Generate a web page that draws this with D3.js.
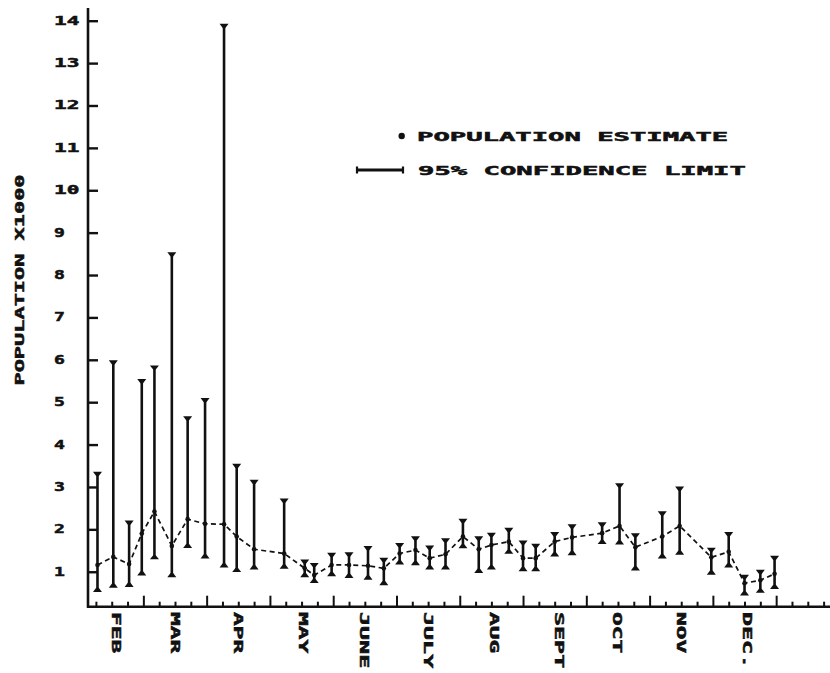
<!DOCTYPE html>
<html><head><meta charset="utf-8">
<script src="https://cdn.jsdelivr.net/npm/d3@7"></script>
<style>body{margin:0;background:#fff}svg{display:block}</style>
</head><body>
<svg id="c" width="830" height="673"></svg>
<script>
// ---- data ----
const weeks = [0.1,1.1,2.1,2.9,3.7,4.8,5.8,6.9,8.1,8.9,10.0,11.9,13.2,13.8,14.9,16.0,17.2,18.2,19.2,20.2,21.1,22.1,23.2,24.2,25.0,26.1,27.0,27.8,29.0,30.1,32.0,33.1,34.1,35.8,36.9,38.9,40.0,41.0,42.0,42.9];
const estimate = [1.16,1.35,1.18,1.90,2.42,1.61,2.24,2.13,2.12,1.83,1.53,1.43,1.08,0.92,1.16,1.16,1.14,1.08,1.43,1.51,1.32,1.41,1.83,1.53,1.63,1.71,1.32,1.32,1.71,1.81,1.91,2.08,1.58,1.83,2.08,1.34,1.47,0.73,0.80,0.95];
const lower = [0.55,0.65,0.67,0.94,1.32,0.90,1.59,1.34,1.13,1.02,1.08,1.10,0.90,0.76,0.92,0.88,0.84,0.71,1.20,1.18,1.08,1.08,1.58,1.00,1.08,1.45,1.04,1.04,1.39,1.42,1.68,1.67,1.06,1.34,1.43,0.96,1.13,0.47,0.53,0.62];
const upper = [3.33,5.96,2.18,5.52,5.84,8.51,4.64,5.07,13.9,3.52,3.14,2.70,1.26,1.18,1.42,1.43,1.58,1.30,1.65,1.81,1.59,1.76,2.22,1.81,1.89,2.01,1.71,1.63,1.91,2.09,2.14,3.06,1.88,2.40,2.98,1.54,1.91,0.90,1.02,1.35];
const yTicks = [1,2,3,4,5,6,7,8,9,10,11,12,13,14];
const weekTicks = d3.range(0, 47);
const months = ["FEB","MAR","APR","MAY","JUNE","JULY","AUG","SEPT","OCT","NOV","DEC."];
const monthWeeks = [1.3,5.0,9.0,13.1,17.0,21.0,25.2,29.3,33.0,37.0,41.2];
const yTitle = "POPULATION X1000";
const legendLabels = ["POPULATION ESTIMATE", "95% CONFIDENCE LIMIT"];

// ---- layout ----
const svg = d3.select("#c");
const FONT = "'DejaVu Sans Mono', monospace";
const INK = "#111";
const x = d3.scaleLinear().domain([0, 46]).range([95.9, 95.9 + 46 * 15.82]);
const y = d3.scaleLinear().domain([0.175, 14.3]).range([606.7, 8]);
const X0 = 88, XEND = 830, Y0 = y(0.175);

function label(g, str, adv, size) {
  return g.append("text").text(str)
    .attr("font-family", FONT).attr("font-weight", "bold")
    .attr("font-size", size || 12).attr("fill", INK)
    .attr("stroke", INK).attr("stroke-width", 0.5)
    .attr("textLength", str.length * adv - adv * 0.25)
    .attr("lengthAdjust", "spacingAndGlyphs");
}

// axes lines
svg.append("line").attr("x1", X0).attr("x2", X0).attr("y1", y(14.3)).attr("y2", Y0 + 1)
  .attr("stroke", INK).attr("stroke-width", 2.6);
svg.append("line").attr("x1", X0 - 1).attr("x2", XEND).attr("y1", Y0).attr("y2", Y0)
  .attr("stroke", INK).attr("stroke-width", 2.6);

// y axis ticks (inside)
const gy = svg.append("g").attr("transform", `translate(${X0},0)`)
  .call(d3.axisLeft(y).tickValues(yTicks).tickSize(-10).tickFormat(""));
gy.select(".domain").remove();
gy.selectAll(".tick line").attr("stroke", INK).attr("stroke-width", 2.4);
yTicks.forEach(v => {
  const s = String(v);
  label(svg, s, 14.5, 12).attr("x", 54).attr("y", y(v)).attr("dominant-baseline", "central");
});

// x axis ticks (inside)
const gx = svg.append("g").attr("transform", `translate(0,${Y0})`)
  .call(d3.axisBottom(x).tickValues(weekTicks).tickSize(-5).tickFormat(""));
gx.select(".domain").remove();
gx.selectAll(".tick line").attr("stroke", INK).attr("stroke-width", 2)
  .attr("y2", d => (d % 4 === 3) ? -11 : -5);

// month labels, rotated
months.forEach((m, i) => {
  const g = svg.append("g").attr("transform", `translate(${x(monthWeeks[i])},612) rotate(90)`);
  label(g, m, 15, 12.5).attr("x", 0).attr("y", 0).attr("dominant-baseline", "central");
});

// y title
{
  const g = svg.append("g").attr("transform", `translate(19,280) rotate(-90)`);
  label(g, yTitle, 13.4, 12.5).attr("text-anchor", "middle").attr("dominant-baseline", "central");
}

// data
const data = weeks.map((w, i) => ({w, e: estimate[i], lo: lower[i], hi: upper[i]}));

svg.append("path").datum(data)
  .attr("d", d3.line().x(d => x(d.w)).y(d => y(d.e)))
  .attr("fill", "none").attr("stroke", INK).attr("stroke-width", 1.7)
  .attr("stroke-dasharray", "5,3.5");

const bars = svg.append("g").selectAll("g").data(data).join("g");
bars.append("line").attr("x1", d => x(d.w)).attr("x2", d => x(d.w))
  .attr("y1", d => y(d.hi)).attr("y2", d => y(d.lo))
  .attr("stroke", INK).attr("stroke-width", 2.6);
function capTop(cx, cy) { return `M${cx-4.5},${cy-1.2}L${cx+4.5},${cy-1.2}L${cx+1.3},${cy+3}L${cx-1.3},${cy+3}Z`; }
function capBot(cx, cy) { return `M${cx-4.5},${cy+1.2}L${cx+4.5},${cy+1.2}L${cx+1.3},${cy-3}L${cx-1.3},${cy-3}Z`; }
bars.append("path").attr("d", d => capTop(x(d.w), y(d.hi))).attr("fill", INK);
bars.append("path").attr("d", d => capBot(x(d.w), y(d.lo))).attr("fill", INK);
bars.append("circle").attr("cx", d => x(d.w)).attr("cy", d => y(d.e)).attr("r", 2.3).attr("fill", INK);

// legend
svg.append("circle").attr("cx", 401.7).attr("cy", 136).attr("r", 3.2).attr("fill", INK);
label(svg, legendLabels[0], 16.6, 12.5).attr("x", 417).attr("y", 136).attr("dominant-baseline", "central");
svg.append("line").attr("x1", 357).attr("x2", 403).attr("y1", 170).attr("y2", 170)
  .attr("stroke", INK).attr("stroke-width", 2.8);
[357, 403].forEach(cx => svg.append("line").attr("x1", cx).attr("x2", cx)
  .attr("y1", 166.5).attr("y2", 173.5).attr("stroke", INK).attr("stroke-width", 2.2));
label(svg, legendLabels[1], 16.6, 12.5).attr("x", 418).attr("y", 170).attr("dominant-baseline", "central");
</script>
</body></html>
